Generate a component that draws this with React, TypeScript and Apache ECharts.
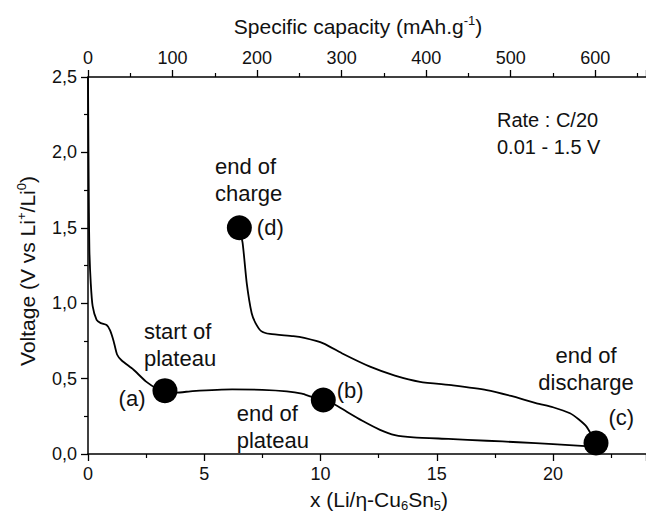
import React, { useEffect, useRef } from "react";
import * as echarts from "echarts";

const xTicks = { min: 0, max: 24, interval: 5 };
const capTicks = { min: 0, max: 660, interval: 100 };
const yTicks = { min: 0, max: 2.5, interval: 0.5 };

const dischargeX = [0, 0.02, 0.04, 0.06, 0.12, 0.2, 0.37, 0.55, 0.8, 0.95, 1.1, 1.25, 1.45, 1.95, 2.5, 3.0, 3.31, 3.8, 4.5, 6.2, 7.5, 8.55, 9.2, 9.6, 10.12, 10.6, 11.13, 11.8, 12.56, 13.2, 14.0, 15.5, 17.15, 18.5, 20.0, 21.4, 21.85];
const dischargeY = [2.5, 2.0, 1.6, 1.35, 1.13, 0.98, 0.89, 0.868, 0.855, 0.82, 0.75, 0.66, 0.62, 0.56, 0.48, 0.43, 0.415, 0.407, 0.417, 0.428, 0.425, 0.415, 0.4, 0.38, 0.358, 0.33, 0.28, 0.22, 0.16, 0.125, 0.11, 0.1, 0.088, 0.078, 0.065, 0.052, 0.05];

const chargeX = [21.85, 21.75, 21.45, 21.1, 20.73, 20.0, 19.3, 18.2, 17.15, 15.7, 14.28, 13.2, 12.13, 10.98, 10.12, 9.3, 8.83, 7.83, 7.45, 7.2, 7.04, 6.83, 6.65, 6.51];
const chargeY = [0.073, 0.1, 0.18, 0.23, 0.27, 0.31, 0.336, 0.385, 0.424, 0.455, 0.479, 0.52, 0.579, 0.663, 0.734, 0.77, 0.782, 0.796, 0.815, 0.87, 0.933, 1.13, 1.4, 1.49];

const markerX = [3.31, 10.12, 21.85, 6.51];
const markerY = [0.42, 0.358, 0.073, 1.5];
const markerLabels = ["(a)", "(b)", "(c)", "(d)"];

const FONT = "'Liberation Sans', Arial, sans-serif";

export default function App() {
  const ref = useRef<HTMLDivElement>(null);
  useEffect(() => {
    if (!ref.current) return;
    const chart = echarts.init(ref.current, null, { renderer: "svg" });
    const labelPos: any[] = [
      { position: "left", distance: 7, offset: [0, 8] },
      { position: "right", distance: 1, offset: [0, -10] },
      { position: "right", distance: 0, offset: [0, -25] },
      { position: "right", distance: 5, offset: [0, 0] },
    ];
    const axisCommon = {
      axisLine: { lineStyle: { color: "#000", width: 1.5 } },
      axisTick: { show: true, length: 7, lineStyle: { color: "#000", width: 1.3 } },
      minorTick: { show: true, splitNumber: 2, length: 4, lineStyle: { color: "#000", width: 1.2 } },
      splitLine: { show: false },
      minorSplitLine: { show: false },
    };
    const textStyle = (extra: any) => ({
      fontFamily: FONT,
      fill: "#111",
      ...extra,
    });
    chart.setOption({
      animation: false,
      backgroundColor: "#fff",
      grid: { left: 88, right: 0, top: 77, bottom: 59, containLabel: false, outerBoundsMode: "none" },
      xAxis: [
        {
          type: "value",
          position: "bottom",
          ...xTicks,
          ...axisCommon,
          axisLabel: { fontFamily: FONT, fontSize: 18, color: "#111", margin: 11, showMaxLabel: false },
          name: "x (Li/η-Cu{sub|6}Sn{sub|5})",
          nameLocation: "middle",
          nameGap: 32,
          nameTextStyle: {
            fontFamily: FONT,
            fontSize: 21,
            color: "#111",
            lineHeight: 24,
            padding: [0, 0, 0, 24],
            rich: { sub: { fontFamily: FONT, fontSize: 13, lineHeight: 14, verticalAlign: "bottom", color: "#111" } },
          },
        },
        {
          type: "value",
          position: "top",
          ...capTicks,
          ...axisCommon,
          axisLabel: { fontFamily: FONT, fontSize: 18, color: "#111", margin: 10, showMaxLabel: false },
          name: "Specific capacity (mAh.g{sup|-1})",
          nameLocation: "middle",
          nameGap: 39,
          nameTextStyle: {
            fontFamily: FONT,
            fontSize: 21,
            color: "#111",
            lineHeight: 24,
            padding: [0, 18, 0, 0],
            rich: { sup: { fontFamily: FONT, fontSize: 13, lineHeight: 14, verticalAlign: "top", color: "#111" } },
          },
        },
      ],
      yAxis: {
        type: "value",
        ...yTicks,
        ...axisCommon,
        axisLabel: {
          fontFamily: FONT,
          fontSize: 18,
          color: "#111",
          margin: 11,
          formatter: (v: number) => v.toFixed(1).replace(".", ","),
        },
        name: "Voltage (V vs Li{sup|+}/Li{sup|0})",
        nameLocation: "middle",
        nameGap: 49,
        nameTextStyle: {
          fontFamily: FONT,
          fontSize: 21,
          color: "#111",
          lineHeight: 24,
          padding: [0, 11, 0, 0],
          rich: { sup: { fontFamily: FONT, fontSize: 13, lineHeight: 14, verticalAlign: "top", color: "#111" } },
        },
      },
      series: [
        {
          type: "line",
          xAxisIndex: 0,
          data: dischargeX.map((x, i) => [x, dischargeY[i]]),
          showSymbol: false,
          smooth: 0.2,
          lineStyle: { color: "#000", width: 1.8 },
          silent: true,
        },
        {
          type: "line",
          xAxisIndex: 0,
          data: chargeX.map((x, i) => [x, chargeY[i]]),
          showSymbol: false,
          smooth: 0.2,
          lineStyle: { color: "#000", width: 1.8 },
          silent: true,
        },
        {
          type: "scatter",
          xAxisIndex: 0,
          symbolSize: 25,
          itemStyle: { color: "#000", opacity: 1 },
          z: 5,
          data: markerX.map((x, i) => ({
            value: [x, markerY[i]],
            label: {
              show: true,
              formatter: markerLabels[i],
              fontFamily: FONT,
              fontSize: 22,
              color: "#111",
              ...labelPos[i],
            },
          })),
        },
      ],
      graphic: [
        { type: "text", x: 144, y: 318, style: textStyle({ text: "start of\nplateau", fontSize: 22, lineHeight: 27, textAlign: "left", textVerticalAlign: "top", align: "left", verticalAlign: "top" }) },
        { type: "text", x: 215, y: 152.5, style: textStyle({ text: "end of\ncharge", fontSize: 22, lineHeight: 27, textAlign: "left", textVerticalAlign: "top", align: "left", verticalAlign: "top" }) },
        { type: "text", x: 236.7, y: 400, style: textStyle({ text: "end of\nplateau", fontSize: 22, lineHeight: 27, textAlign: "left", textVerticalAlign: "top", align: "left", verticalAlign: "top" }) },
        { type: "text", x: 586, y: 341.5, style: textStyle({ text: "end of\ndischarge", fontSize: 22, lineHeight: 27, textAlign: "center", textVerticalAlign: "top", align: "center", verticalAlign: "top" }) },
        { type: "text", x: 497, y: 106.5, style: textStyle({ text: "Rate : C/20\n0.01 - 1.5 V", fontSize: 20, lineHeight: 27, textAlign: "left", textVerticalAlign: "top", align: "left", verticalAlign: "top" }) },
      ],
    });
    return () => chart.dispose();
  }, []);
  return <div ref={ref} style={{ position: "fixed", left: 0, top: 0, width: 646, height: 513 }} />;
}
